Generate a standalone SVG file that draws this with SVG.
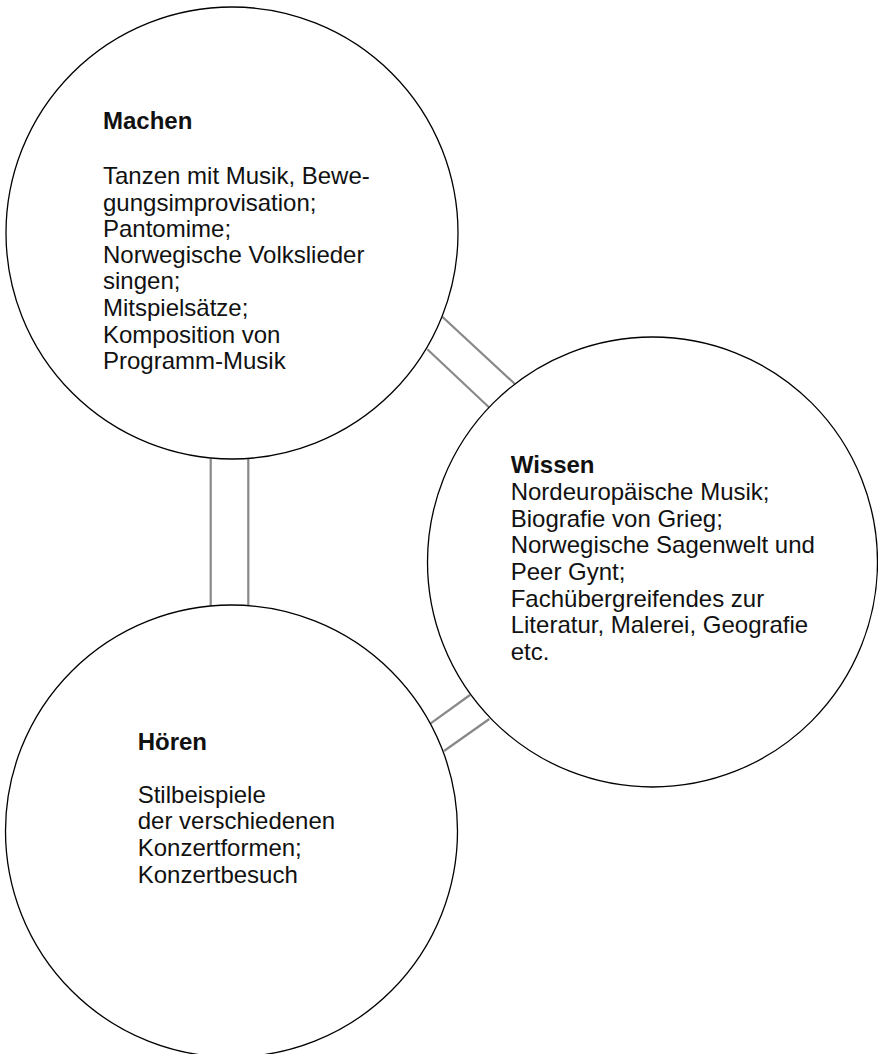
<svg xmlns="http://www.w3.org/2000/svg" width="878" height="1054" viewBox="0 0 878 1054">
<style>
.c{fill:#fff;stroke:#000;stroke-width:1.3}
.t{font-family:"Liberation Sans",Arial,sans-serif;font-size:24px;fill:#111}
.b{font-weight:bold}
.k{stroke:#888;stroke-width:2.2;fill:none}
</style>
<rect width="878" height="1054" fill="#fff"/>
<g id="connectors">
<line class="k" x1="210.7" y1="459" x2="210.7" y2="606"/>
<line class="k" x1="248.3" y1="459" x2="248.3" y2="606"/>
<line class="k" x1="442.3" y1="316.7" x2="516" y2="385"/>
<line class="k" x1="427.3" y1="349.3" x2="490" y2="408.3"/>
<line class="k" x1="430.7" y1="723.3" x2="470" y2="695"/>
<line class="k" x1="444" y1="751" x2="489.3" y2="719"/>
</g>
<g id="machen">
<circle class="c" cx="232" cy="233" r="226"/>
<text class="t" x="103" y="129.3"><tspan class="b">Machen</tspan><tspan x="103" y="184.3">Tanzen mit Musik, Bewe-</tspan><tspan x="103" y="210.7">gungsimprovisation;</tspan><tspan x="103" y="237.3">Pantomime;</tspan><tspan x="103" y="263.3">Norwegische Volkslieder</tspan><tspan x="103" y="289.3">singen;</tspan><tspan x="103" y="316">Mitspielsätze;</tspan><tspan x="103" y="343">Komposition von</tspan><tspan x="103" y="369.3">Programm-Musik</tspan></text>
</g>
<g id="wissen">
<circle class="c" cx="652.5" cy="562" r="225"/>
<text class="t" x="510.7" y="473.3"><tspan class="b">Wissen</tspan><tspan x="510.7" y="500">Nordeuropäische Musik;</tspan><tspan x="510.7" y="526.7">Biografie von Grieg;</tspan><tspan x="510.7" y="553.3">Norwegische Sagenwelt und</tspan><tspan x="510.7" y="580">Peer Gynt;</tspan><tspan x="510.7" y="606.7">Fachübergreifendes zur</tspan><tspan x="510.7" y="633.3">Literatur, Malerei, Geografie</tspan><tspan x="510.7" y="660">etc.</tspan></text>
</g>
<g id="hoeren">
<circle class="c" cx="231.5" cy="831" r="226"/>
<text class="t" x="137.7" y="750"><tspan class="b">Hören</tspan><tspan x="137.7" y="802.7">Stilbeispiele</tspan><tspan x="137.7" y="829.3">der verschiedenen</tspan><tspan x="137.7" y="856">Konzertformen;</tspan><tspan x="137.7" y="882.7">Konzertbesuch</tspan></text>
</g>
</svg>
